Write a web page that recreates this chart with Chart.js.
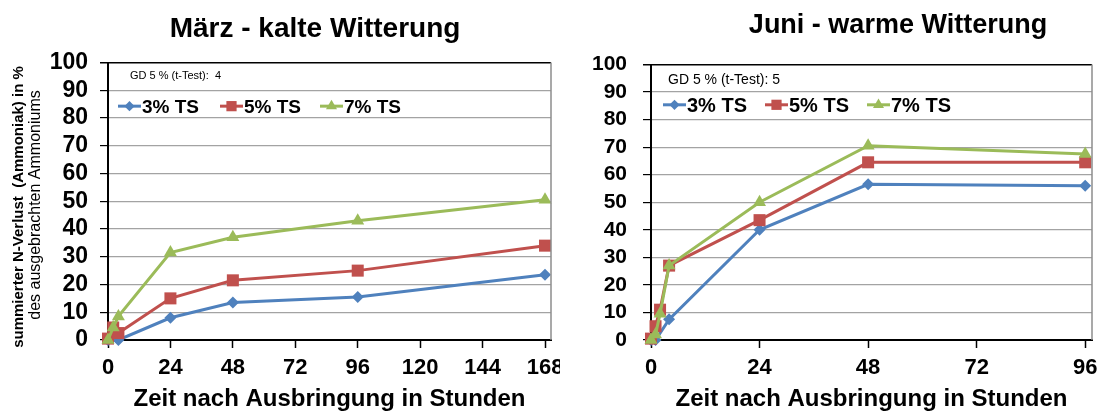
<!DOCTYPE html>
<html lang="de">
<head>
    <meta charset="UTF-8">
    <title>N-Verlust nach Ausbringung</title>
    <script src="https://cdn.jsdelivr.net/npm/chart.js"></script>
    <style>
        body {
            margin: 0;
            background-color: #fff;
        }
        .wrap {
            position: relative;
            width: 1101px;
            height: 411px;
        }
        .panel {
            position: absolute;
            top: 0;
            height: 411px;
        }
        #left { left: 0; width: 560px; }
        #right { left: 560px; width: 541px; }
    </style>
</head>
<body>
<div class="wrap">
    <div class="panel" id="left"><canvas id="maerzChart"></canvas></div>
    <div class="panel" id="right"><canvas id="juniChart"></canvas></div>
</div>

<script>
    // Values (hours after application, % loss)
    const seriesNames = ['3% TS', '5% TS', '7% TS'];

    const maerzHours = [0, 2, 4, 24, 48, 96, 168];
    const maerz3 = [0, null, 0, 8, 13.5, 15.5, 23.5];
    const maerz5 = [0.5, 4.5, 2.5, 15, 21.5, 25, 34];
    const maerz7 = [0, 4.5, 8.5, 31.5, 37, 43, 50.5];
    const maerzTicks = [0, 24, 48, 72, 96, 120, 144, 168];

    const juniHours = [0, 1, 2, 4, 24, 48, 96];
    const juni3 = [0, 0, null, 7.5, 40, 56.5, 56];
    const juni5 = [0.5, 5, 11, 27, 43.5, 64.5, 64.5];
    const juni7 = [0, 2, 9.5, 27, 50, 70.5, 67.5];
    const juniTicks = [0, 24, 48, 72, 96];

    const yTicks = [0, 10, 20, 30, 40, 50, 60, 70, 80, 90, 100];

    const colors = ['#4F81BD', '#C0504D', '#9BBB59'];
    const markers = ['rectRot', 'rect', 'triangle'];
    const markerSizes = [6, 8.5, 7.5];
    const FONT = "'Liberation Sans', Arial, sans-serif";

    function drawMarker(ctx, style, x, y, r, color) {
        ctx.save();
        ctx.fillStyle = color;
        ctx.beginPath();
        if (style === 'rectRot') {
            ctx.moveTo(x - r, y);
            ctx.lineTo(x, y - r);
            ctx.lineTo(x + r, y);
            ctx.lineTo(x, y + r);
        } else if (style === 'rect') {
            const s = r * Math.SQRT1_2;
            ctx.rect(x - s, y - s, 2 * s, 2 * s);
        } else {
            ctx.moveTo(x, y - r);
            ctx.lineTo(x + r * 0.866, y + r * 0.5);
            ctx.lineTo(x - r * 0.866, y + r * 0.5);
        }
        ctx.closePath();
        ctx.fill();
        ctx.restore();
    }

    // title, GD note, legend inside plot, y title, right border
    const overlayPlugin = {
        id: 'overlay',
        afterDraw(chart, args, o) {
            const ctx = chart.ctx;
            const area = chart.chartArea;
            ctx.save();

            // right border of plot area
            ctx.strokeStyle = '#8c8c8c';
            ctx.lineWidth = 1.5;
            ctx.beginPath();
            ctx.moveTo(area.right, area.top);
            ctx.lineTo(area.right, area.bottom);
            ctx.stroke();

            ctx.fillStyle = '#000';
            ctx.textAlign = 'center';
            ctx.textBaseline = 'alphabetic';
            ctx.font = 'bold ' + o.titleSize + 'px ' + FONT;
            ctx.fillText(o.title, o.titleX, o.titleY);

            ctx.textAlign = 'left';
            ctx.font = o.gdSize + 'px ' + FONT;
            ctx.fillText(o.gd, o.gdX, o.gdY);

            ctx.font = 'bold ' + o.legendSize + 'px ' + FONT;
            o.legendX.forEach((lx, i) => {
                const ly = o.legendY - o.legendSize * 0.36;
                ctx.strokeStyle = colors[i];
                ctx.lineWidth = 3;
                ctx.beginPath();
                ctx.moveTo(lx, ly);
                ctx.lineTo(lx + 23, ly);
                ctx.stroke();
                drawMarker(ctx, markers[i], lx + 11.5, ly, markerSizes[i] * 0.85, colors[i]);
                ctx.fillStyle = '#000';
                ctx.fillText(seriesNames[i], lx + 24, o.legendY);
            });

            if (o.yTitle) {
                ctx.translate(o.yTitle.x1, o.yTitle.cy);
                ctx.rotate(-Math.PI / 2);
                ctx.textAlign = 'center';
                ctx.textBaseline = 'middle';
                ctx.font = 'bold 15px ' + FONT;
                ctx.fillText('summierter N-Verlust  (Ammoniak) in %', 0, 0);
                ctx.font = '16px ' + FONT;
                ctx.fillText('des ausgebrachten Ammoniums', 2, o.yTitle.x2 - o.yTitle.x1);
            }
            ctx.restore();
        }
    };

    function buildSet(hours, values, i) {
        return {
            label: seriesNames[i],
            data: hours.map((h, k) => ({ x: h, y: values[k] })),
            borderColor: colors[i],
            backgroundColor: colors[i],
            borderWidth: 3,
            pointStyle: markers[i],
            pointRadius: markerSizes[i],
            pointBorderWidth: 0,
            tension: 0,
            spanGaps: true,
            clip: false,
            order: 2 - i
        };
    }

    function createPanel(canvasId, sets, ticks, xMax, layout, overlay) {
        const ctx = document.getElementById(canvasId).getContext('2d');
        new Chart(ctx, {
            type: 'line',
            data: { datasets: sets },
            plugins: [overlayPlugin],
            options: {
                responsive: true,
                maintainAspectRatio: false,
                animation: false,
                layout: { padding: { top: layout.top, right: layout.right, left: 0, bottom: 0 } },
                plugins: {
                    legend: { display: false },
                    tooltip: { enabled: false },
                    title: { display: false },
                    overlay: overlay
                },
                scales: {
                    x: {
                        type: 'linear',
                        min: 0,
                        max: xMax,
                        afterBuildTicks: s => { s.ticks = ticks.map(v => ({ value: v })); },
                        afterFit: s => { s.height = 71; s.paddingLeft = 0; s.paddingRight = 0; },
                        border: { color: '#000', width: 2 },
                        grid: { drawOnChartArea: false, tickLength: 8, tickColor: '#000', tickWidth: 1.5 },
                        ticks: {
                            color: '#000',
                            padding: 7,
                            maxRotation: 0,
                            autoSkip: false,
                            font: { family: FONT, size: 22, weight: 'bold' }
                        },
                        title: {
                            display: true,
                            text: 'Zeit nach Ausbringung in Stunden',
                            color: '#000',
                            padding: 0,
                            font: { family: FONT, size: 24, weight: 'bold', lineHeight: 1 }
                        }
                    },
                    y: {
                        min: 0,
                        max: 100,
                        afterBuildTicks: s => { s.ticks = yTicks.map(v => ({ value: v })); },
                        afterFit: s => { s.width = layout.yWidth; s.paddingTop = 0; s.paddingBottom = 0; },
                        border: { color: '#000', width: 2 },
                        grid: {
                            color: c => c.tick && c.tick.value === 100 ? '#000' : '#a3a3a3',
                            lineWidth: c => c.tick && c.tick.value === 100 ? 1.5 : 1.2,
                            tickLength: 8,
                            tickColor: '#000'
                        },
                        ticks: {
                            color: '#000',
                            autoSkip: false,
                            padding: layout.yPad,
                            font: { family: FONT, size: layout.yFont, weight: 'bold' }
                        }
                    }
                }
            }
        });
    }

    createPanel(
        'maerzChart',
        [buildSet(maerzHours, maerz3, 0), buildSet(maerzHours, maerz5, 1), buildSet(maerzHours, maerz7, 2)],
        maerzTicks,
        170.3,
        { top: 62.5, right: 9, yWidth: 108, yPad: 12, yFont: 23 },
        {
            title: 'März - kalte Witterung', titleSize: 28, titleX: 315, titleY: 37,
            gd: 'GD 5 % (t-Test):  4', gdSize: 11, gdX: 130, gdY: 79,
            legendSize: 19, legendX: [118, 220, 320], legendY: 113,
            yTitle: { x1: 19, x2: 36, cy: 207 }
        }
    );

    createPanel(
        'juniChart',
        [buildSet(juniHours, juni3, 0), buildSet(juniHours, juni5, 1), buildSet(juniHours, juni7, 2)],
        juniTicks,
        97.5,
        { top: 64.5, right: 9, yWidth: 91, yPad: 16, yFont: 21 },
        {
            title: 'Juni - warme Witterung', titleSize: 27, titleX: 338, titleY: 33,
            gd: 'GD 5 % (t-Test): 5', gdSize: 14, gdX: 108, gdY: 84,
            legendSize: 20, legendX: [103, 205, 307], legendY: 112,
            yTitle: null
        }
    );
</script>
</body>
</html>
